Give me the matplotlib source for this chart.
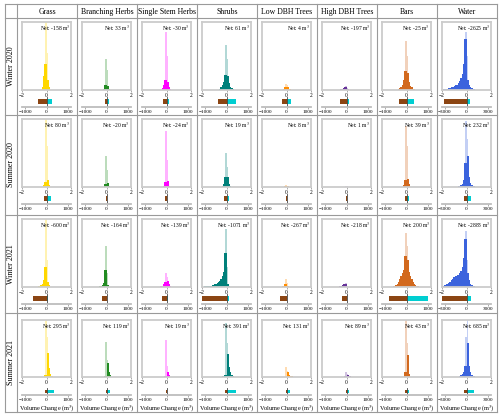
import numpy as np
import matplotlib.pyplot as plt
from matplotlib.lines import Line2D

plt.rcParams['font.family'] = ['Liberation Serif', 'DejaVu Serif']
plt.rcParams['mathtext.fontset'] = 'stix'

classes = ['Grass', 'Branching Herbs', 'Single Stem Herbs', 'Shrubs',
           'Low DBH Trees', 'High DBH Trees', 'Bars', 'Water']
seasons = ['Winter 2020', 'Summer 2020', 'Winter 2021', 'Summer 2021']
colors = ['#ffd700', '#228b22', '#ff00ff', '#00807a',
          '#ff8c00', '#663399', '#d2691e', '#3b63dd']

# net volume change (m3)
net = [[-158, 33, -30, 61, 4, -197, -25, -2625],
       [80, -20, -24, 19, 8, 1, 39, 232],
       [-600, -164, -139, -1071, -267, -218, 200, -2883],
       [295, 119, 19, 391, 131, 89, 43, 685]]
# erosion / deposition volumes (m3)
neg = [[-420, -70, -150, -400, -200, -300, -370, -3100],
       [-120, -40, -50, -120, -20, -3, -90, -400],
       [-650, -190, -230, -1190, -300, -230, -800, -3500],
       [-80, -30, -15, -50, -30, -20, -70, -360]]
pos = [[262, 103, 120, 461, 204, 103, 345, 475],
       [200, 20, 26, 139, 28, 4, 129, 632],
       [50, 26, 91, 119, 33, 12, 1000, 617],
       [375, 149, 34, 441, 161, 109, 113, 1045]]

# histograms of elevation change, bins of 0.1 m from -2 to 2
# (first bin index, heights in % of panel height)
hist_w20 = [(16, [5, 20, 38, 100, 55, 15, 4]),
            (17, [2, 8, 46, 30, 6, 2]),
            (16, [3, 8, 14, 85, 50, 12, 5, 2]),
            (14, [2, 4, 7, 12, 22, 66, 45, 20, 10, 5, 3, 1]),
            (17, [1, 4, 9, 7, 4, 2, 1]),
            (15, [1, 2, 3, 4, 6, 3, 1]),
            (13, [2, 3, 5, 8, 14, 28, 72, 50, 25, 12, 6, 4, 2, 1]),
            (1, [1, 1, 2, 2, 3, 3, 4, 4, 5, 6, 7, 8, 10, 13, 17, 24, 38, 75,
                 85, 50, 15, 8, 5, 3, 2, 1])]
hist_s20 = [(17, [3, 8, 100, 60, 10, 3]),
            (18, [5, 45, 25, 6, 2]),
            (17, [2, 8, 82, 40, 9, 2]),
            (16, [2, 5, 14, 50, 30, 14, 5, 2]),
            (18, [1, 3, 2, 1]),
            (19, [1, 1]),
            (17, [3, 10, 90, 60, 12, 4]),
            (13, [1, 2, 3, 5, 10, 35, 97, 70, 45, 15, 6, 3, 2, 1])]
hist_w21 = [(13, [1, 2, 3, 5, 10, 30, 100, 40, 8, 3]),
            (14, [1, 2, 3, 6, 25, 60, 20, 3]),
            (15, [1, 2, 4, 8, 20, 15, 9, 4, 1]),
            (2, [1, 1, 1, 2, 2, 2, 3, 3, 4, 5, 6, 7, 9, 12, 16, 22, 50, 85,
                 30, 5, 2]),
            (16, [1, 2, 5, 12, 6, 2]),
            (14, [1, 2, 3, 4, 5, 6, 2]),
            (9, [1, 2, 3, 5, 8, 12, 16, 20, 25, 45, 80, 60, 40, 22, 16, 12,
                 8, 5, 3, 2, 1]),
            (0, [1, 2, 3, 4, 5, 6, 8, 10, 12, 14, 15, 16, 17, 18, 20, 24, 30,
                 42, 70, 82, 40, 20, 10, 5, 3, 2, 1])]
hist_s21 = [(18, [3, 100, 70, 42, 15, 5, 2]),
            (18, [2, 62, 30, 25, 8, 3]),
            (18, [2, 65, 20, 8, 3]),
            (16, [1, 2, 4, 95, 60, 40, 18, 8, 4, 2]),
            (19, [18, 10, 8, 4, 2, 1]),
            (18, [1, 8, 5, 4, 2, 1]),
            (18, [8, 100, 60, 38, 5]),
            (14, [2, 3, 5, 8, 20, 70, 100, 60, 20, 8, 4, 2, 1])]
hists = [hist_w20, hist_s20, hist_w21, hist_s21]
bar_lim = [1150, 1150, 1150, 1150, 1150, 1150, 1150, 3350]

W, H = 500, 417
fig = plt.figure(figsize=(5, 4.17), dpi=100)


def box(x, y, w, h):
    return [x / W, 1 - (y + h) / H, w / W, h / H]


def fline(x0, y0, x1, y1):
    fig.add_artist(Line2D([x0 / W, x1 / W], [1 - y0 / H, 1 - y1 / H],
                          transform=fig.transFigure, color='#9a9a9a', lw=0.8))


col_x = np.linspace(17, 497, 9)
row_y = np.array([18, 115, 215, 313, 412])
top, left = 4, 5

# table grid
for y in [top, *row_y]:
    fline(left, y, 497, y)
for x in [left, *col_x]:
    fline(x, top, x, 412)

for j, name in enumerate(classes):
    fig.text((col_x[j] + col_x[j + 1]) / 2 / W, 1 - 11.5 / H, name,
             ha='center', va='center', fontsize=5.6)
for i, s in enumerate(seasons):
    fig.text(11 / W, 1 - (row_y[i] + row_y[i + 1]) / 2 / H, s,
             ha='center', va='center', rotation=90, fontsize=5.8)

centers = np.arange(-1.95, 2.0, 0.1)
light_bins = [19, 20]

for i in range(4):
    y0 = row_y[i]
    if i < 3:
        h_top, h_h, b_top, b_h = 4, 68, 79, 10
    else:
        h_top, h_h, b_top, b_h = 7, 57, 75, 7
    for j in range(8):
        x0 = col_x[j]
        c = colors[j]
        start, vals = hists[i][j]
        heights = np.zeros(40)
        heights[start:start + len(vals)] = vals

        ax = fig.add_axes(box(x0 + 5, y0 + h_top, 49, h_h))
        dark = heights.copy()
        for k in light_bins:
            nb = k - 1 if k == light_bins[0] else k + 1
            dark[k] = min(heights[k], heights[nb])
        ax.bar(centers[light_bins], heights[light_bins], width=0.1,
               color=c, alpha=0.3, linewidth=0)
        ax.bar(centers, dark, width=0.1, color=c, linewidth=0)
        ax.set_xlim(-2, 2)
        ax.set_ylim(0, 100)
        ax.set_yticks([])
        ax.set_xticks([-2, 0, 2])
        ax.tick_params(axis='x', labelsize=4, length=1.5, width=0.5,
                       pad=1, color='#888888')
        for sp in ax.spines.values():
            sp.set_color('#cccccc')
            sp.set_linewidth(1.3)
        ax.text(0.98, 0.98, f'Net: {net[i][j]} m$^3$', transform=ax.transAxes,
                ha='right', va='top', fontsize=4)

        bx = fig.add_axes(box(x0 + 5, y0 + b_top, 49, b_h))
        bx.barh(0.55, neg[i][j], height=0.45, color='#8b4513')
        bx.barh(0.55, pos[i][j], height=0.45, color='#00ced1')
        bx.axvline(0, color='#444444', lw=0.6)
        lim = bar_lim[j]
        bx.set_xlim(-lim, lim)
        bx.set_ylim(0, 1)
        bx.set_yticks([])
        t = 3000 if lim > 2000 else 1000
        bx.set_xticks([-t, 0, t])
        bx.tick_params(axis='x', labelsize=3.8, length=1.5, width=0.5,
                       pad=1, color='#888888')
        for name, sp in bx.spines.items():
            if name == 'bottom':
                sp.set_color('#bdbdbd')
                sp.set_linewidth(1.3)
            else:
                sp.set_visible(False)
        bx.patch.set_alpha(0)
        if i == 3:
            bx.set_xlabel('Volume Change (m$^3$)', fontsize=4.5, labelpad=1)

fig.savefig('out.png', dpi=100)
